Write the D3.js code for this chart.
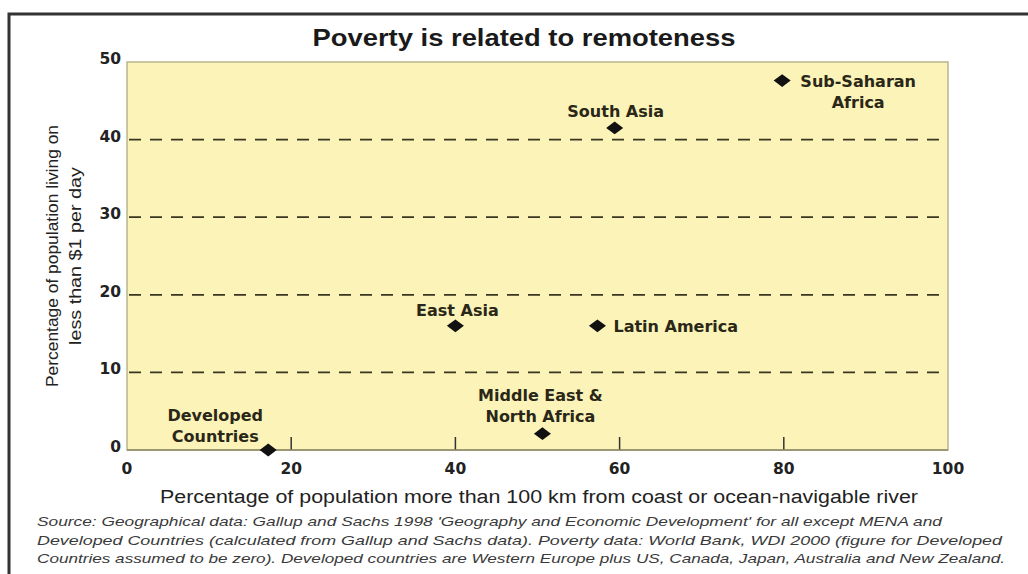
<!DOCTYPE html>
<html>
<head>
<meta charset="utf-8">
<script src="https://cdn.jsdelivr.net/npm/d3@7"></script>
<style>
  body { margin: 0; background: #fff; }
  svg { display: block; }
  .tick-label { font-family: "DejaVu Sans", sans-serif; font-weight: bold; font-size: 15.5px; fill: #222; }
  .pt-label { font-family: "DejaVu Sans", sans-serif; font-weight: bold; font-size: 16px; fill: #2a2718; }
  .axis-title { font-family: "Liberation Sans Narrow", "Arial Narrow", "Liberation Sans", sans-serif; fill: #222; }
  .source { font-family: "Liberation Sans Narrow", "Arial Narrow", "Liberation Sans", sans-serif; font-style: italic; font-size: 13.5px; fill: #3a3a3a; }
</style>
</head>
<body>
<div id="chart"></div>
<script>
// data
var regions = ["Developed Countries", "East Asia", "Latin America", "Middle East & North Africa", "South Asia", "Sub-Saharan Africa"];
var remoteness = [17.2, 40.0, 57.3, 50.6, 59.4, 79.8];   // % population > 100 km from coast
var poverty = [0.0, 16.0, 16.0, 2.1, 41.5, 47.6];          // % living on < $1 per day
var labelLines = [["Developed", "Countries"], ["East Asia"], ["Latin America"], ["Middle East &", "North Africa"], ["South Asia"], ["Sub-Saharan", "Africa"]];
var xTicks = [0, 20, 40, 60, 80, 100];
var yTicks = [0, 10, 20, 30, 40, 50];
var sourceLines = [
  "Source: Geographical data: Gallup and Sachs 1998 'Geography and Economic Development' for all except MENA and",
  "Developed Countries (calculated from Gallup and Sachs data). Poverty data: World Bank, WDI 2000 (figure for Developed",
  "Countries assumed to be zero). Developed countries are Western Europe plus US, Canada, Japan, Australia and New Zealand."
];

var width = 1028, height = 574;
var margin = { top: 62, left: 127, right: 80, bottom: 124 };

// label offsets relative to the point (layout only)
var labelPos = {
  "Developed Countries": { dx: -53, dy: -29, anchor: "middle" },
  "East Asia": { dx: 2, dy: -10, anchor: "middle" },
  "Latin America": { dx: 16, dy: 6, anchor: "start" },
  "Middle East & North Africa": { dx: -2, dy: -33, anchor: "middle" },
  "South Asia": { dx: 1, dy: -11, anchor: "middle" },
  "Sub-Saharan Africa": { dx: 76, dy: 6, anchor: "middle" }
};

var svg = d3.select("#chart").append("svg")
  .attr("width", width)
  .attr("height", height);

// outer frame (top + left rule)
svg.append("path")
  .attr("d", "M9,574 V14 H1028")
  .attr("fill", "none")
  .attr("stroke", "#333")
  .attr("stroke-width", 3);

var xScale = d3.scaleLinear().domain([0, 100]).range([margin.left, width - margin.right]);
var yScale = d3.scaleLinear().domain([0, 50]).range([height - margin.bottom, margin.top]);

svg.append("rect")
  .attr("x", xScale(0))
  .attr("y", yScale(50))
  .attr("width", xScale(100) - xScale(0))
  .attr("height", yScale(0) - yScale(50))
  .attr("fill", "#fbf3b7")
  .attr("stroke", "#b9b58e")
  .attr("stroke-width", 1.5);

// dashed gridlines
svg.selectAll(".grid")
  .data(yTicks.filter(function(d) { return d > 0 && d < 50; }))
  .enter().append("line")
  .attr("x1", xScale(0) + 2)
  .attr("x2", xScale(100))
  .attr("y1", function(d) { return yScale(d); })
  .attr("y2", function(d) { return yScale(d); })
  .attr("stroke", "#3a3622")
  .attr("stroke-width", 1.7)
  .attr("stroke-dasharray", "12,9");

// x ticks pointing inward
svg.selectAll(".xtick")
  .data(xTicks.filter(function(d) { return d > 0 && d < 100; }))
  .enter().append("line")
  .attr("x1", function(d) { return xScale(d); })
  .attr("x2", function(d) { return xScale(d); })
  .attr("y1", yScale(0))
  .attr("y2", yScale(0) - 13)
  .attr("stroke", "#333")
  .attr("stroke-width", 1.5);

svg.append("line")
  .attr("x1", xScale(0)).attr("x2", xScale(100))
  .attr("y1", yScale(0)).attr("y2", yScale(0))
  .attr("stroke", "#8c8866").attr("stroke-width", 1.5);

svg.selectAll(".xlab")
  .data(xTicks)
  .enter().append("text")
  .attr("class", "tick-label")
  .attr("x", function(d) { return xScale(d); })
  .attr("y", yScale(0) + 24)
  .attr("text-anchor", "middle")
  .text(function(d) { return d; });

svg.selectAll(".ylab")
  .data(yTicks)
  .enter().append("text")
  .attr("class", "tick-label")
  .attr("x", xScale(0) - 6)
  .attr("y", function(d) { return yScale(d) + 2; })
  .attr("text-anchor", "end")
  .text(function(d) { return d; });

// title
svg.append("text")
  .attr("x", 524)
  .attr("y", 46)
  .attr("text-anchor", "middle")
  .attr("font-family", "'Liberation Sans Narrow', 'Arial Narrow', 'Liberation Sans', sans-serif")
  .attr("font-weight", "bold")
  .attr("font-size", 23)
  .attr("textLength", 423)
  .attr("lengthAdjust", "spacingAndGlyphs")
  .attr("fill", "#1a1a1a")
  .text("Poverty is related to remoteness");

// axis titles
var yTitle = svg.append("text")
  .attr("class", "axis-title")
  .attr("transform", "translate(0,256) rotate(-90)")
  .attr("text-anchor", "middle")
  .attr("font-size", 17);
yTitle.append("tspan").attr("x", 0).attr("y", 58)
  .attr("textLength", 262).attr("lengthAdjust", "spacingAndGlyphs")
  .text("Percentage of population living on");
yTitle.append("tspan").attr("x", 0).attr("y", 81)
  .attr("textLength", 178).attr("lengthAdjust", "spacingAndGlyphs")
  .text("less than $1 per day");

svg.append("text")
  .attr("class", "axis-title")
  .attr("x", 539)
  .attr("y", 503)
  .attr("text-anchor", "middle")
  .attr("font-size", 18)
  .attr("textLength", 758)
  .attr("lengthAdjust", "spacingAndGlyphs")
  .text("Percentage of population more than 100 km from coast or ocean-navigable river");

// points
var diamond = d3.symbol().type(d3.symbolSquare).size(145);
var pts = svg.selectAll(".pt")
  .data(regions)
  .enter().append("g")
  .attr("transform", function(d, i) { return "translate(" + xScale(remoteness[i]) + "," + yScale(poverty[i]) + ")"; });

pts.append("path")
  .attr("d", diamond())
  .attr("transform", "scale(1,0.75) rotate(45)")
  .attr("fill", "#111");

pts.each(function(d, i) {
  var p = labelPos[d];
  var t = d3.select(this).append("text")
    .attr("class", "pt-label")
    .attr("text-anchor", p.anchor);
  labelLines[i].forEach(function(line, j) {
    t.append("tspan")
      .attr("x", p.dx)
      .attr("y", p.dy + j * 21)
      .text(line);
  });
});

// source note
var srcLen = [905, 965, 968];
svg.selectAll(".src")
  .data(sourceLines)
  .enter().append("text")
  .attr("class", "source")
  .attr("x", 37)
  .attr("y", function(d, i) { return 526 + i * 18.5; })
  .attr("textLength", function(d, i) { return srcLen[i]; })
  .attr("lengthAdjust", "spacingAndGlyphs")
  .text(function(d) { return d; });
</script>
</body>
</html>
